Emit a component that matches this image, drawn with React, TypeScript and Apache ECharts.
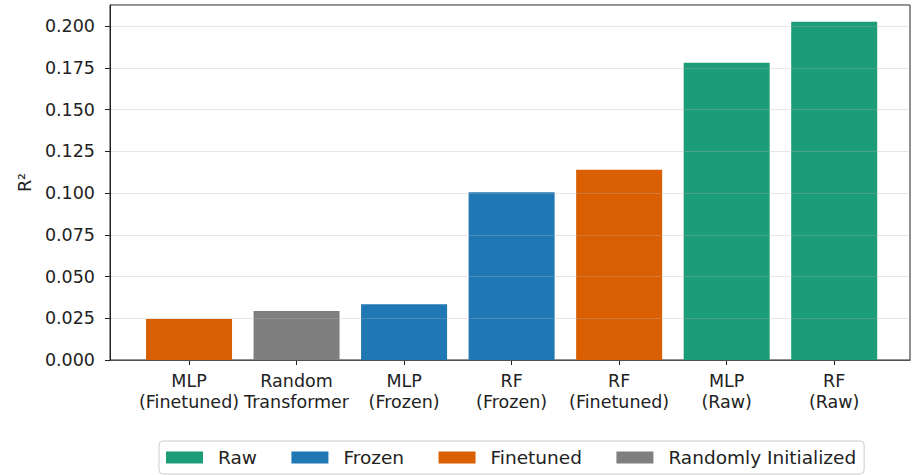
import React, { useEffect, useRef } from "react";
import * as echarts from "echarts";

const categories = [
  "MLP\n(Finetuned)",
  "Random\nTransformer",
  "MLP\n(Frozen)",
  "RF\n(Frozen)",
  "RF\n(Finetuned)",
  "MLP\n(Raw)",
  "RF\n(Raw)",
];
const values = [0.0245, 0.0293, 0.0334, 0.1005, 0.1139, 0.178, 0.2026];
const groups = [
  "Finetuned",
  "Randomly Initialized",
  "Frozen",
  "Frozen",
  "Finetuned",
  "Raw",
  "Raw",
];
const legendOrder = ["Raw", "Frozen", "Finetuned", "Randomly Initialized"];
const groupColors: Record<string, string> = {
  Raw: "#1b9e77",
  Frozen: "#1f77b4",
  Finetuned: "#d95f02",
  "Randomly Initialized": "#7f7f7f",
};
const yTicks = [0, 0.025, 0.05, 0.075, 0.1, 0.125, 0.15, 0.175, 0.2];

const FONT = "DejaVu Sans";
const FS = 17.5;
const DARK = "#222222";

export default function App() {
  const ref = useRef<HTMLDivElement>(null);
  useEffect(() => {
    if (!ref.current) return;
    const chart = echarts.init(ref.current, undefined, { renderer: "svg" });
    const idx = categories.map((_, i) => i);
    const series = legendOrder.map((g) => ({
      name: g,
      type: "bar" as const,
      barWidth: 86,
      barGap: "-100%",
      itemStyle: { color: groupColors[g] },
      data: idx.filter((i) => groups[i] === g).map((i) => [i, values[i]]),
    }));
    chart.setOption({
      animation: false,
      backgroundColor: "#ffffff",
      textStyle: { fontFamily: FONT },
      grid: {
        left: 110,
        right: 8,
        top: 5,
        bottom: 115,
        show: true,
        borderColor: DARK,
        borderWidth: 1,
        backgroundColor: "transparent",
      },
      legend: {
        data: legendOrder,
        left: 159,
        top: 441,
        orient: "horizontal",
        itemWidth: 37,
        itemHeight: 12,
        itemGap: 34.5,
        icon: "rect",
        padding: [7, 8, 7, 7],
        borderColor: "#cccccc",
        borderWidth: 1,
        borderRadius: 4,
        textStyle: {
          fontFamily: FONT,
          fontSize: 18.5,
          color: "#222222",
          lineHeight: 18,
          padding: [0, 0, 0, 10],
        },
      },
      xAxis: {
        type: "value",
        min: -0.735,
        max: 6.705,
        splitLine: { show: false },
        axisLine: { show: true, onZero: false, lineStyle: { color: DARK, width: 1 } },
        axisTick: {
          show: true,
          length: 5,
          customValues: idx,
          lineStyle: { color: DARK },
        },
        axisLabel: {
          customValues: idx,
          margin: 10,
          fontFamily: FONT,
          fontSize: FS,
          lineHeight: 21,
          color: "#222222",
          formatter: (v: number) => categories[Math.round(v)] ?? "",
        },
      },
      yAxis: {
        type: "value",
        min: 0,
        max: 0.2126,
        interval: 0.025,
        z: 5,
        name: "R²",
        nameLocation: "middle",
        nameGap: 74,
        nameTextStyle: { fontFamily: FONT, fontSize: FS, color: "#222222" },
        axisLine: { show: true, onZero: false, lineStyle: { color: DARK, width: 1 } },
        axisTick: { show: true, length: 5, lineStyle: { color: DARK } },
        axisLabel: {
          margin: 15,
          fontFamily: FONT,
          fontSize: FS,
          color: "#222222",
          showMaxLabel: false,
          formatter: (v: number) =>
            yTicks.some((t) => Math.abs(t - v) < 1e-9) ? v.toFixed(3) : "",
        },
        splitLine: {
          show: true,
          lineStyle: { color: "rgba(176,176,176,0.32)", width: 1 },
        },
      },
      series,
    });
    return () => chart.dispose();
  }, []);
  return <div ref={ref} style={{ width: 918, height: 475, position: "absolute", left: 0, top: 0 }} />;
}
